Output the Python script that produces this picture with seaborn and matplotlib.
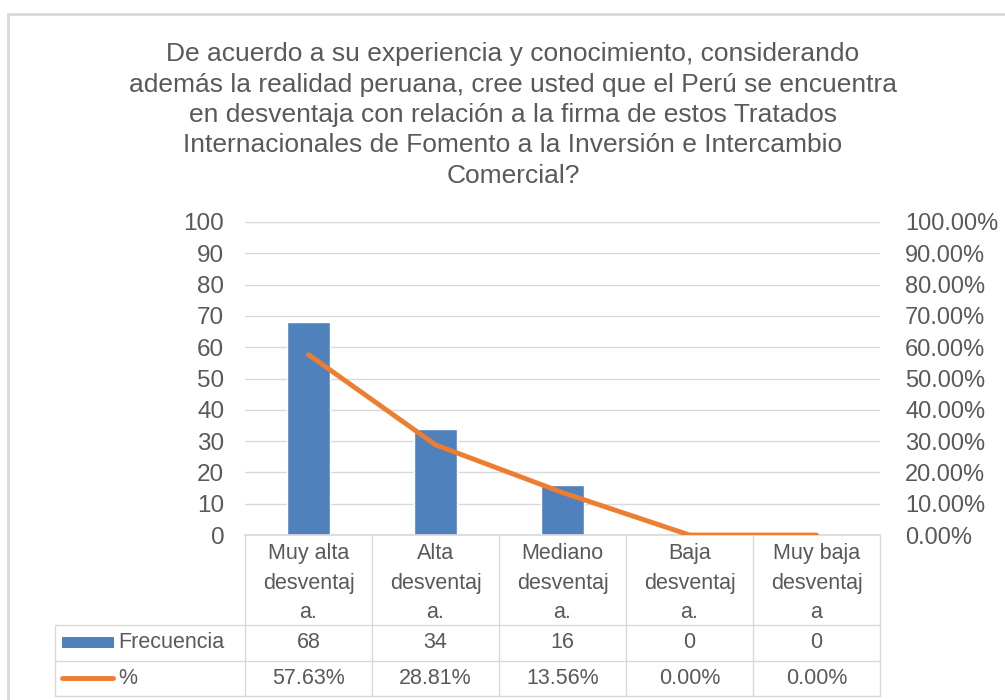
import matplotlib
matplotlib.use("Agg")
import matplotlib.pyplot as plt
import seaborn as sns
import numpy as np

# Data
categorias = ["Muy alta\ndesventaj\na.", "Alta\ndesventaj\na.", "Mediano\ndesventaj\na.",
              "Baja\ndesventaj\na.", "Muy baja\ndesventaj\na"]
frecuencia = [68, 34, 16, 0, 0]
porcentaje = [0.5763, 0.2881, 0.1356, 0.0, 0.0]
titulo = ("De acuerdo a su experiencia y conocimiento, considerando\n"
          "además la realidad peruana, cree usted que el Perú se encuentra\n"
          "en desventaja con relación a la firma de estos Tratados\n"
          "Internacionales de Fomento a la Inversión e Intercambio\n"
          "Comercial?")
y_ticks = list(range(0, 101, 10))
y2_ticks = [t / 100 for t in y_ticks]

AZUL = "#4F81BD"
NARANJA = "#ED7D31"
GRIS_TXT = "#595959"
GRIS_LIN = "#D9D9D9"

sns.set_theme(style="white")
plt.rcParams["font.family"] = ["Liberation Sans", "DejaVu Sans"]

W, H = 1005, 700
fig = plt.figure(figsize=(W / 100, H / 100), dpi=100)

def fx(px):
    return px / W

def fy(py):
    return 1 - py / H

# plot area in pixels
x0, x1 = 245, 880
ytop, ybot = 222, 535
ax = fig.add_axes([fx(x0), fy(ybot), fx(x1) - fx(x0), fy(ytop) - fy(ybot)])

sns.barplot(x=list(range(len(categorias))), y=frecuencia, color=AZUL, width=0.34,
            saturation=1, ax=ax, native_scale=True)
ax.set_xlim(-0.5, len(categorias) - 0.5)
ax.set_ylim(0, 100)
ax.set_yticks(y_ticks)
ax.set_yticklabels([str(t) for t in y_ticks], color=GRIS_TXT, fontsize=17.5)
ax.set_xticks([])
ax.set_xlabel("")
ax.set_ylabel("")
ax.tick_params(axis="y", length=0, pad=15)
ax.grid(axis="y", color=GRIS_LIN, linewidth=1)
ax.set_axisbelow(True)
for s in ["top", "right", "left"]:
    ax.spines[s].set_visible(False)
ax.spines["bottom"].set_color(GRIS_LIN)

ax2 = ax.twinx()
sns.lineplot(x=list(range(len(categorias))), y=porcentaje, color=NARANJA, linewidth=3.5,
             ax=ax2, solid_capstyle="round")
ax2.set_xlim(-0.5, len(categorias) - 0.5)
ax2.set_ylim(0, 1)
ax2.set_yticks(y2_ticks)
ax2.set_yticklabels([f"{t * 100:.2f}%" for t in y2_ticks], color=GRIS_TXT, fontsize=17)
ax2.tick_params(axis="y", length=0, pad=18)
for s in ["top", "right", "left", "bottom"]:
    ax2.spines[s].set_visible(False)

# Title
fig.text(fx(513), fy(115), titulo, ha="center", va="center", fontsize=19,
         color=GRIS_TXT, linespacing=1.33)

# Data table
col_w = (x1 - x0) / len(categorias)
tleft = 55
r0, r1, r2, r3 = 535, 625, 661, 696
lw = 1
col = GRIS_LIN
def hline(y, xa, xb):
    fig.add_artist(plt.Line2D([fx(xa), fx(xb)], [fy(y), fy(y)], color=col, lw=lw))

def vline(x, ya, yb):
    fig.add_artist(plt.Line2D([fx(x), fx(x)], [fy(ya), fy(yb)], color=col, lw=lw))

hline(r1, tleft, x1)
hline(r2, tleft, x1)
hline(r3, tleft, x1)
vline(tleft, r1, r3)
for i in range(len(categorias) + 1):
    vline(x0 + i * col_w, r0, r3)

tfont = dict(fontsize=15.5, color=GRIS_TXT, family=["Liberation Sans", "DejaVu Sans"])
for i, c in enumerate(categorias):
    cx = x0 + (i + 0.5) * col_w
    fig.text(fx(cx), fy((r0 + r1) / 2 + 3), c, ha="center", va="center", linespacing=1.55, **tfont)
    fig.text(fx(cx), fy((r1 + r2) / 2), str(frecuencia[i]), ha="center", va="center", **tfont)
    fig.text(fx(cx), fy((r2 + r3) / 2), f"{porcentaje[i] * 100:.2f}%", ha="center", va="center", **tfont)

# legend keys in table
fig.add_artist(plt.Rectangle((fx(62), fy(648)), fx(114) - fx(62), fy(637) - fy(648), color=AZUL, lw=0))
fig.add_artist(plt.Line2D([fx(62), fx(113)], [fy(678), fy(678)], color=NARANJA, lw=3.5,
                          solid_capstyle="round"))
fig.text(fx(118), fy((r1 + r2) / 2), "Frecuencia", ha="left", va="center", **tfont)
fig.text(fx(118), fy((r2 + r3) / 2), "%", ha="left", va="center", **tfont)

# chart border
fig.add_artist(plt.Rectangle((fx(8), -0.01), 1.0, fy(14) + 0.01, fill=False,
                             edgecolor=GRIS_LIN, lw=2))

fig.savefig("out.png", dpi=100, facecolor="white")
